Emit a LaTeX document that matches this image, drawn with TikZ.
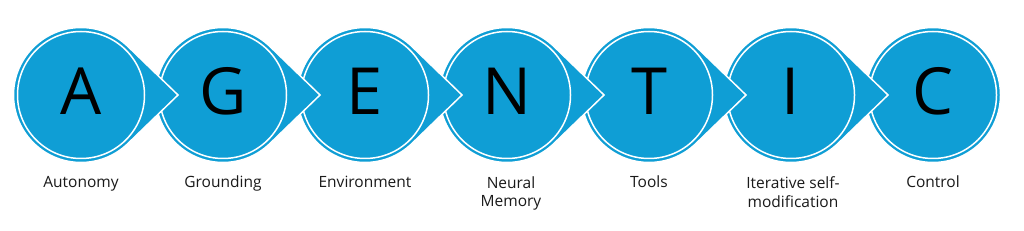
\documentclass[tikz,border=0pt]{standalone}
\usepackage{fontspec}
\setmainfont{Open Sans}
\definecolor{agblue}{HTML}{0F9ED5}
\definecolor{labelgray}{HTML}{1A1A1A}
\begin{document}
\begin{tikzpicture}[x=1pt,y=1pt,
  pin/.style={fill=agblue, draw=white, line width=1.5pt, line join=miter},
  ring/.style={draw=white, line width=1.5pt},
  letter/.style={font=\fontsize{65}{65}\selectfont, anchor=base, inner sep=0pt, text=black},
  caption/.style={font=\fontsize{15.5}{18.5}\selectfont, align=center, anchor=base, inner sep=0pt, text=labelgray}]
\useasboundingbox[fill=white] (0,0) rectangle (1024,230);
% last circle (no pointer)
\coordinate (c6) at (933,135);
\draw[pin] (c6) circle[radius=67.5pt];
\draw[ring] (c6) circle[radius=63.5pt];
% pointer shapes, drawn right to left so each pointer lies over the next circle
\foreach \i in {5,4,3,2,1,0}{
  \pgfmathsetmacro\cx{81+142*\i}
  \coordinate (c\i) at (\cx,135);
  \draw[pin] ([xshift=97pt]c\i) -- ([shift={(46.3:67.5pt)}]c\i)
     arc[start angle=46.3, end angle=313.7, radius=67.5pt] -- cycle;
  \draw[ring] (c\i) circle[radius=63.5pt];
}
% letters
\node[letter] (lA) at (81,115) {A};
\node[letter] (lG) at (223,115) {G};
\node[letter] (lE) at (365,115) {E};
\node[letter] (lN) at (507,115) {N};
\node[letter] (lT) at (649,115) {T};
\node[letter] (lI) at (791,115) {I};
\node[letter] (lC) at (933,115) {C};
% captions
\node[caption] (tA) at (81,42) {Autonomy};
\node[caption] (tG) at (223,42) {Grounding};
\node[caption] (tE) at (365,42) {Environment};
\node[caption, anchor=north] (tN) at (511,53.5) {Neural\\Memory};
\node[caption] (tT) at (649,42) {Tools};
\node[caption, anchor=north] (tI) at (793,53.5) {Iterative self-\\modification};
\node[caption] (tC) at (933,42) {Control};
\end{tikzpicture}
\end{document}
